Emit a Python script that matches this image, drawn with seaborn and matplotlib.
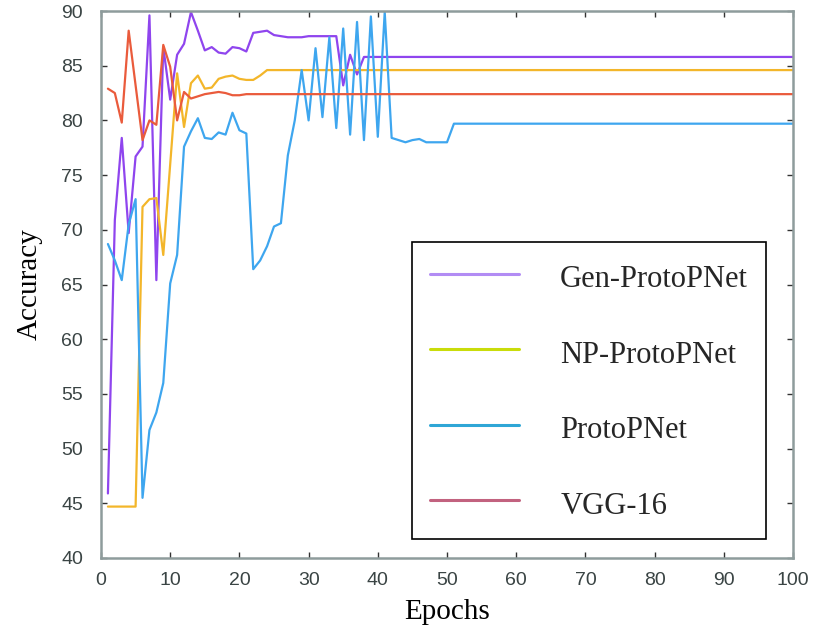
import numpy as np
import pandas as pd
import matplotlib
matplotlib.use("Agg")
import matplotlib.pyplot as plt
from matplotlib.lines import Line2D
import seaborn as sns

# accuracy per epoch (flat tails are the plateaus)
epochs = list(range(1, 101))

gen_protopnet = [45.9, 70.9, 78.4, 69.7, 76.7, 77.6, 89.6, 65.4, 86.7, 81.9,
                 86.0, 87.0, 89.9, 88.2, 86.4, 86.7, 86.2, 86.1, 86.7, 86.6,
                 86.3, 88.0, 88.1, 88.2, 87.8, 87.7, 87.6, 87.6, 87.6, 87.7,
                 87.7, 87.7, 87.7, 87.7, 83.2, 86.0, 84.2, 85.8] + [85.8] * 62

np_protopnet = [44.7, 44.7, 44.7, 44.7, 44.7, 72.1, 72.8, 72.9, 67.7, 76.0,
                84.3, 79.4, 83.4, 84.1, 82.9, 83.0, 83.8, 84.0, 84.1, 83.8,
                83.7, 83.7, 84.1, 84.6, 84.6] + [84.6] * 75

protopnet = [68.7, 67.2, 65.4, 70.5, 72.8, 45.5, 51.7, 53.3, 56.0, 65.1,
             67.7, 77.6, 79.0, 80.2, 78.4, 78.3, 78.9, 78.7, 80.7, 79.1,
             78.8, 66.4, 67.2, 68.5, 70.3, 70.6, 76.8, 80.0, 84.6, 80.0,
             86.6, 80.3, 87.6, 79.3, 88.4, 78.7, 89.0, 78.2, 89.5, 78.5,
             89.9, 78.4, 78.2, 78.0, 78.2, 78.3, 78.0, 78.0, 78.0, 78.0,
             79.7] + [79.7] * 49

vgg16 = [82.9, 82.5, 79.8, 88.2, 83.2, 78.2, 80.0, 79.6, 86.9, 84.9,
         80.0, 82.6, 82.0, 82.2, 82.4, 82.5, 82.6, 82.5, 82.3, 82.3] + [82.4] * 80

models = ["Gen-ProtoPNet", "NP-ProtoPNet", "ProtoPNet", "VGG-16"]
line_colors = ["#8f45ee", "#f3b62a", "#3ea6ef", "#ea5b3c"]
legend_colors = ["#b28cf4", "#c9dc0a", "#2fa6d6", "#c2627f"]

df = pd.concat([
    pd.DataFrame({"Epoch": epochs, "Accuracy": vals, "Model": name})
    for name, vals in zip(models, [gen_protopnet, np_protopnet, protopnet, vgg16])
])

sns.set_theme(style="white")
plt.rcParams["font.family"] = ["Liberation Sans", "DejaVu Sans"]

fig = plt.figure(figsize=(8.13, 6.33), dpi=100)
ax = fig.add_axes([101 / 813, 1 - 558 / 633, 692 / 813, 547 / 633])

sns.lineplot(data=df, x="Epoch", y="Accuracy", hue="Model", hue_order=models,
             palette=line_colors, linewidth=1.6, estimator=None, errorbar=None,
             legend=False, ax=ax)

ax.set_xlim(0, 100)
ax.set_ylim(40, 90)
ax.set_xticks(np.arange(0, 101, 10))
ax.set_yticks(np.arange(40, 91, 5))

spine_col = "#8e9c9c"
for s in ax.spines.values():
    s.set_visible(True)
    s.set_color(spine_col)
    s.set_linewidth(1.8)

ax.tick_params(axis="both", which="both", direction="in", length=4.5, width=1.0,
               color="#333333", top=True, right=True, bottom=True, left=True,
               labelsize=14, labelcolor="#3a4444")
ax.tick_params(axis="y", pad=13)
ax.tick_params(axis="x", pad=10)

ax.set_xlabel("Epochs", family="Liberation Serif", fontsize=21, color="black", labelpad=7)
ax.set_ylabel("Accuracy", family="Liberation Serif", fontsize=21, color="black", labelpad=13)

handles = [Line2D([0], [0], color=c, linewidth=2.2) for c in legend_colors]
leg = ax.legend(handles, models, loc="upper left",
                bbox_to_anchor=(412 / 813, 1 - 242 / 633), bbox_transform=fig.transFigure,
                borderaxespad=0, prop={"family": "Liberation Serif", "size": 22},
                handlelength=2.9, handleheight=1.3, handletextpad=1.35,
                labelspacing=1.36, borderpad=0.6, fancybox=False, framealpha=1,
                edgecolor="black")
leg.get_frame().set_linewidth(1.2)

fig.savefig("out.png", dpi=100)
